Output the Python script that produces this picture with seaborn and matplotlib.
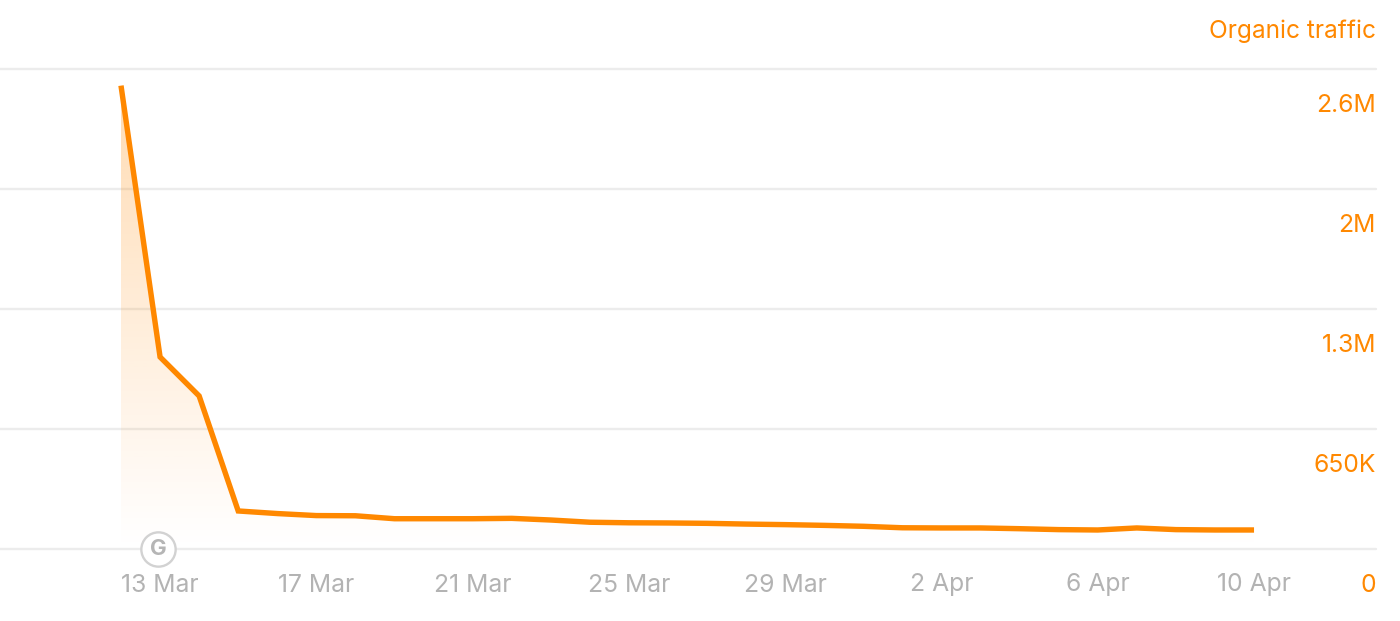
import matplotlib
matplotlib.use("Agg")
import matplotlib.dates as mdates
import matplotlib.pyplot as plt
import numpy as np
import pandas as pd
import seaborn as sns

ORANGE = "#ff8800"

days = pd.date_range("2024-03-12", "2024-04-10", freq="D")
traffic = [2510000, 1040000, 829000, 206000, 192000, 181000, 180000, 164000, 164000, 164000,
           166000, 157000, 145000, 142000, 141000, 139000, 135000, 132000, 128000, 123000,
           115000, 114000, 114000, 110000, 105000, 103000, 114000, 105000, 103000, 103000]
x_ticks = ["2024-03-13", "2024-03-17", "2024-03-21", "2024-03-25", "2024-03-29",
           "2024-04-02", "2024-04-06", "2024-04-10"]
x_labels = ["13 Mar", "17 Mar", "21 Mar", "25 Mar", "29 Mar", "2 Apr", "6 Apr", "10 Apr"]
y_ticks = [0, 650000, 1300000, 1950000, 2600000]
y_labels = ["0", "650K", "1.3M", "2M", "2.6M"]
series_name = "Organic traffic"
event_day = "2024-03-13"


def main():
    sns.set_theme(style="white")
    plt.rcParams["font.family"] = ["Inter", "DejaVu Sans"]
    df = pd.DataFrame({"day": days, "traffic": traffic})

    fig = plt.figure(figsize=(14, 6.21), dpi=100)
    ax = fig.add_axes([0, (621 - 549) / 621, 1376 / 1400, 480 / 621])

    x0 = mdates.date2num(days[0])
    px_per_day = 39.07
    xlim = (x0 - 121 / px_per_day, x0 + (1376 - 121) / px_per_day)

    # gradient under the line, clipped to the area
    area = ax.fill_between(df["day"], df["traffic"], 0, color="none", linewidth=0)
    rgba = np.zeros((256, 1, 4))
    rgba[..., :3] = matplotlib.colors.to_rgb(ORANGE)
    rgba[:, 0, 3] = np.linspace(0.3, 0.0, 256)
    grad = ax.imshow(rgba, aspect="auto", origin="upper", zorder=1,
                     extent=(x0, mdates.date2num(days[-1]), 0, max(traffic)))
    grad.set_clip_path(area.get_paths()[0], transform=ax.transData)

    sns.lineplot(data=df, x="day", y="traffic", color=ORANGE, linewidth=3.9, ax=ax, zorder=3,
                 solid_joinstyle="miter", solid_capstyle="butt")

    ax.set_xlim(*xlim)
    ax.set_ylim(0, 2600000)
    ax.set_xlabel("")
    ax.set_ylabel("")
    for s in ax.spines.values():
        s.set_visible(False)

    ax.set_yticks(y_ticks)
    ax.set_yticklabels([])
    ax.grid(axis="y", color="#ececec", linewidth=1.7)
    ax.grid(axis="x", visible=False)
    for gl in ax.get_ygridlines():
        gl.set_clip_on(False)
    ax.set_axisbelow(True)
    ax.tick_params(left=False, bottom=False, labelbottom=False)

    for t, lab in zip(x_ticks, x_labels):
        ax.annotate(lab, (pd.Timestamp(t), 0), xytext=(0, -36), textcoords="offset pixels",
                    ha="center", va="center", color="#b3b3b3", fontsize=17.8, annotation_clip=False)
    for v, lab in zip(y_ticks, y_labels):
        ax.annotate(lab, (1, v), xycoords=ax.get_yaxis_transform(), xytext=(0, -37),
                    textcoords="offset pixels", ha="right", va="center", color=ORANGE,
                    fontsize=17.8, annotation_clip=False)
    ax.annotate(series_name, (1, 2600000), xycoords=ax.get_yaxis_transform(), xytext=(0, 38),
                textcoords="offset pixels", ha="right", va="center", color=ORANGE,
                fontsize=17.6, annotation_clip=False)

    # google update marker, sits a little left of its day
    ev = pd.Timestamp(event_day) - pd.Timedelta(hours=1.2)
    ax.scatter([ev], [0], s=610, marker="o", facecolor="white", edgecolor="#d2d2d2",
               linewidth=1.7, zorder=4, clip_on=False)
    ax.annotate("G", (ev, 0), ha="center", va="center", color="#b5b5b5", fontsize=16,
                fontweight="bold", zorder=5, annotation_clip=False)

    fig.savefig("out.png", dpi=100, facecolor="white")


if __name__ == '__main__':
    main()
